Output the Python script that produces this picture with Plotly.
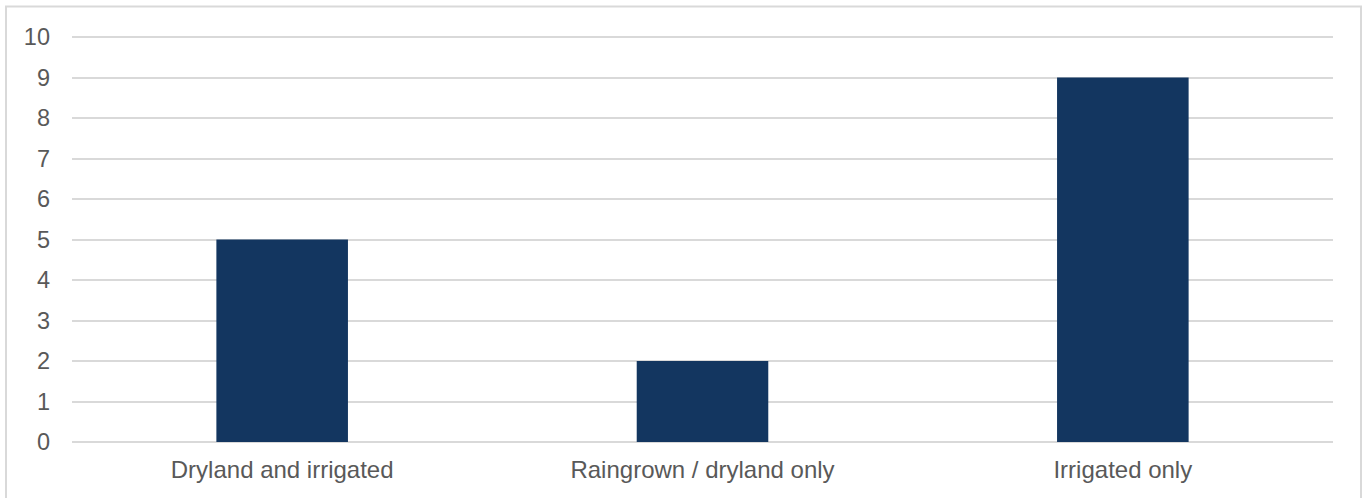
import plotly.graph_objects as go

categories = ["Dryland and irrigated", "Raingrown / dryland only", "Irrigated only"]
values = [5, 2, 9]
y_ticks = list(range(0, 11))

W, H = 1364, 498
L, R, T, B = 72, 31, 36, 56
pw, ph = W - L - R, H - T - B
YMAX = 10.025

fig = go.Figure(go.Bar(x=categories, y=values, marker=dict(color="#133660", line=dict(width=0)),
                       hoverinfo="skip"))

def px_x(p):
    return (p - L) / pw

def px_y(p):
    return (H - B - p) / ph

fig.add_shape(type="rect", xref="paper", yref="paper",
              x0=px_x(6), x1=px_x(1361), y0=px_y(505), y1=px_y(6.5),
              line=dict(color="#d9d9d9", width=2), fillcolor="rgba(0,0,0,0)", layer="below")

fig.update_layout(
    width=W, height=H,
    margin=dict(l=L, r=R, t=T, b=B, pad=0),
    paper_bgcolor="white", plot_bgcolor="white",
    bargap=0.687,
    showlegend=False,
    font=dict(family="Liberation Sans, Arial, sans-serif", size=23, color="#595959"),
    xaxis=dict(showgrid=False, showline=False, zeroline=False, ticks="",
               tickfont=dict(size=24, color="#595959"), ticklabelstandoff=11),
    yaxis=dict(range=[0, YMAX], tickvals=y_ticks, showgrid=True, gridcolor="#d9d9d9",
               gridwidth=1.5, zeroline=True, zerolinecolor="#d9d9d9", zerolinewidth=1.5,
               showline=False, ticks="", tickfont=dict(size=23.5, color="#595959"),
               ticklabelstandoff=21),
)

fig.write_html("out.html", config={"displayModeBar": False},
               post_script="document.body.style.margin='0';document.body.style.padding='0';")
